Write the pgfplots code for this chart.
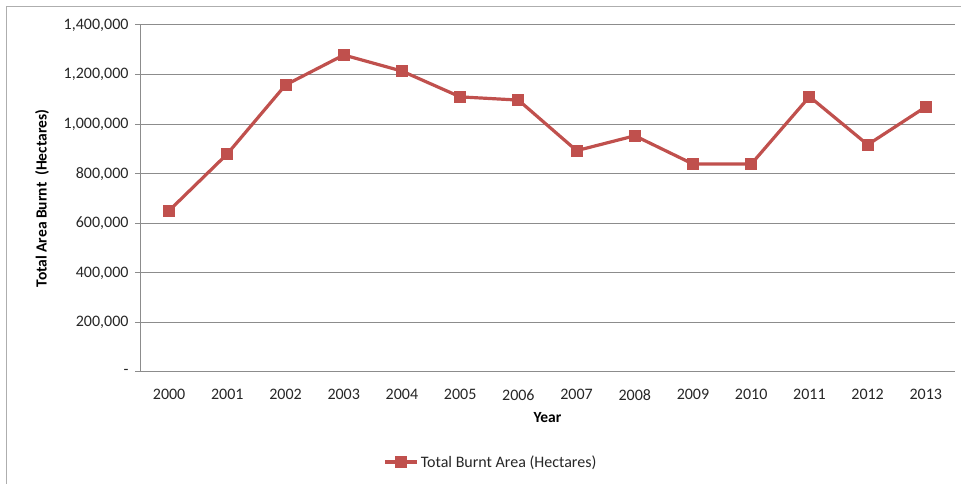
\documentclass[border=0pt]{standalone}
\usepackage{fontspec}
\setmainfont{Carlito}
\usepackage{pgfplots}
\pgfplotsset{compat=1.18}
\definecolor{burnt}{HTML}{C0504D}
\definecolor{gridgray}{HTML}{8C8C8C}
\definecolor{txt}{HTML}{262626}

\begin{document}
\begin{tikzpicture}[x=1bp,y=1bp]
\useasboundingbox (0,0) rectangle (961,484);
% outer chart frame
\draw[gridgray!70, line width=1bp] (6,0) -- (6,477) -- (961,477);
\begin{axis}[
    at={(140bp,112bp)}, anchor=south west,
    scale only axis,
    width=815bp, height=347bp,
    xmin=1999.5, xmax=2013.5,
    ymin=0, ymax=1400000,
    axis x line*=bottom,
    axis y line*=left,
    axis line style={gridgray, line width=1bp},
    xtick={2000,...,2013},
    xticklabel style={/pgf/number format/1000 sep={}, yshift=-9bp},
    xtick style={draw=none},
    ytick={0,200000,400000,600000,800000,1000000,1200000,1400000},
    yticklabels={-,{200,000},{400,000},{600,000},{800,000},{1,000,000},{1,200,000},{1,400,000}},
    scaled y ticks=false,
    yticklabel style={xshift=-3bp},
    ytick style={gridgray, line width=1bp},
    tick align=outside,
    major tick length=5bp,
    ymajorgrids,
    grid style={gridgray, line width=1bp},
    /pgf/number format/assume math mode=true,
    tick label style={font=\fontsize{16bp}{19bp}\selectfont, text=txt},
    xlabel={Year},
    ylabel={Total Area Burnt\ \ (Hectares)},
    label style={font=\fontsize{15.5bp}{18bp}\selectfont\bfseries, text=black},
    xlabel style={at={(axis description cs:0.5,-0.1326)}, anchor=center},
    ylabel style={at={(axis description cs:-0.1202,0.5)}, anchor=center},
    legend style={at={(axis description cs:0.4307,-0.2594)}, anchor=center,
        draw=none, fill=none, font=\fontsize{16bp}{19bp}\selectfont, text=txt,
        /tikz/every even column/.append style={column sep=0bp}},
    legend image code/.code={\draw[mark repeat=2,mark phase=2,#1]
        plot coordinates {(0bp,0bp) (16bp,0bp) (32bp,0bp)};},
    clip=false,
]
\addplot[burnt, line width=3.2bp, mark=square*, mark size=5.5bp,
    mark options={solid, fill=burnt, draw=burnt, line width=0bp}] coordinates {
    (2000,651000) (2001,880000) (2002,1158000) (2003,1279000)
    (2004,1214000) (2005,1110000) (2006,1097000) (2007,893000)
    (2008,953000) (2009,839000) (2010,839000) (2011,1111000)
    (2012,917000) (2013,1070000)
};
\addlegendentry{Total Burnt Area (Hectares)}
\end{axis}
\end{tikzpicture}
\end{document}
